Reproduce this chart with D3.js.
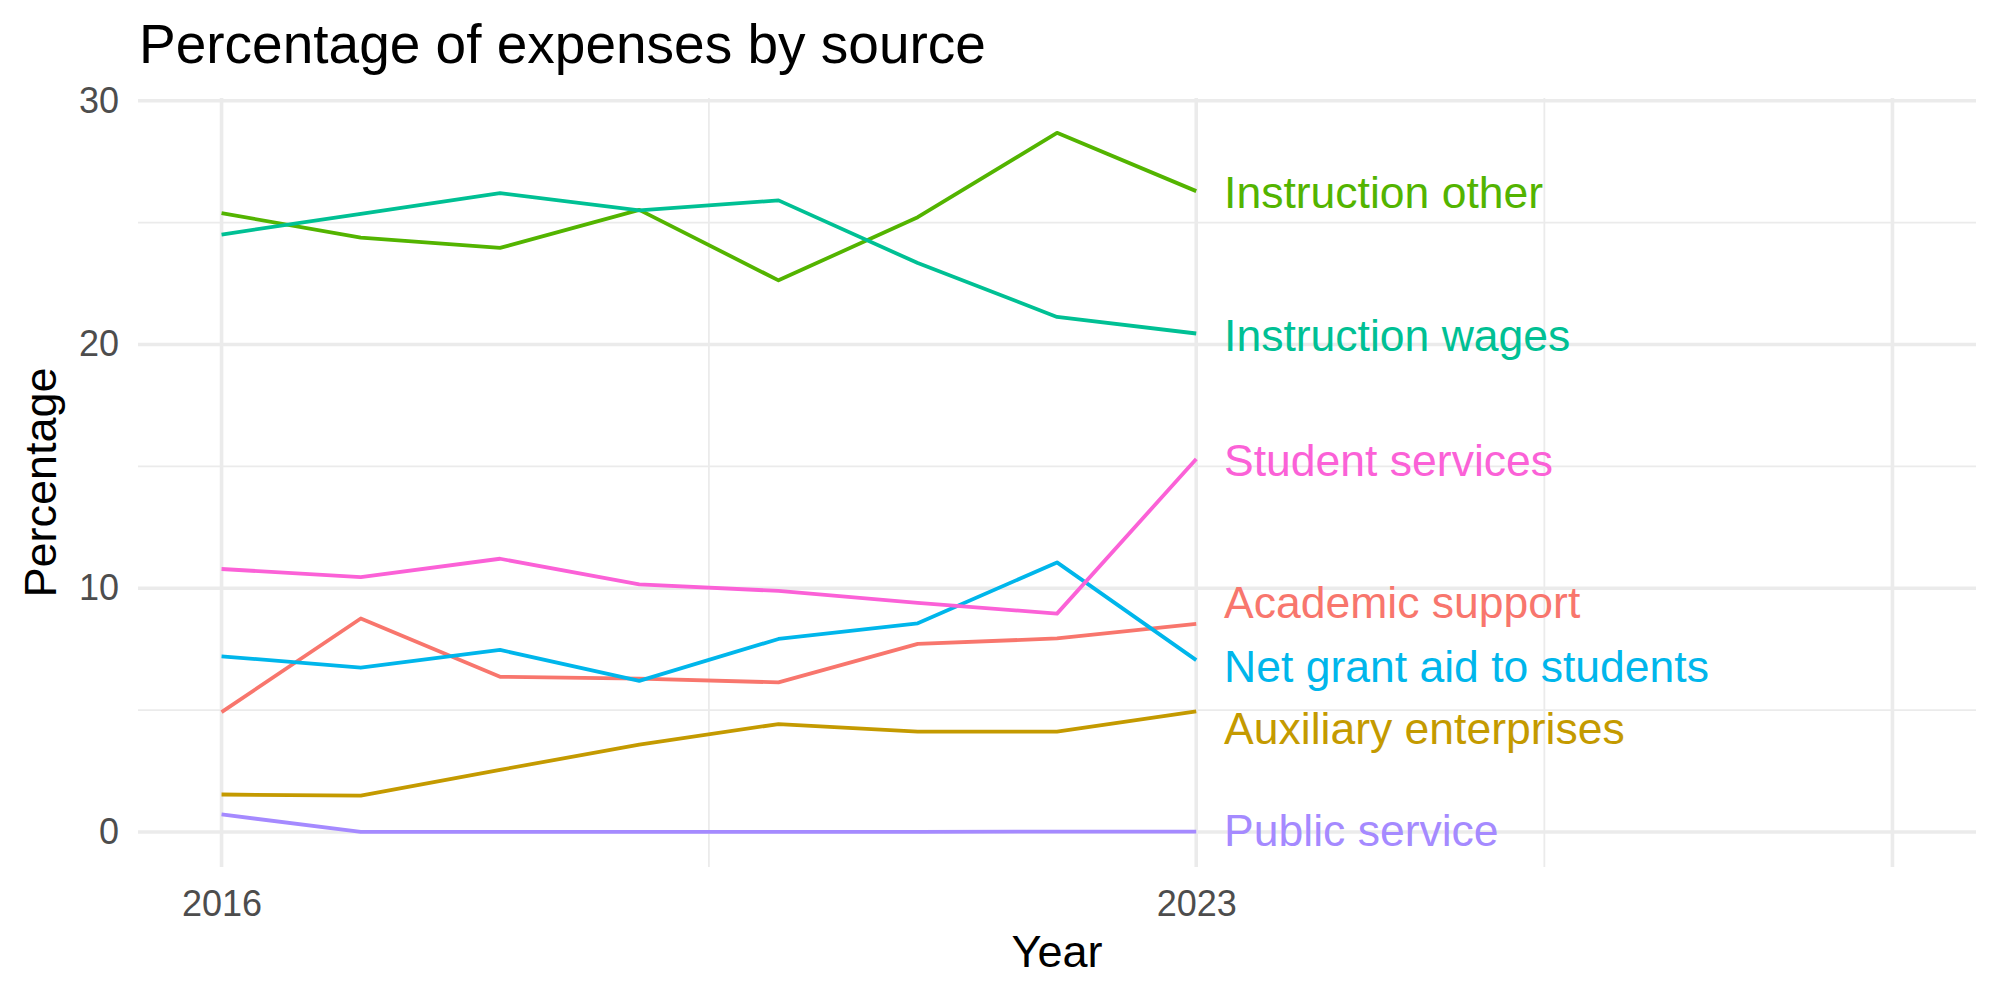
<!DOCTYPE html>
<html>
<head>
<meta charset="utf-8">
<script src="https://cdn.jsdelivr.net/npm/d3@7"></script>
<style>
  body { margin: 0; background: #fff; }
  text { font-family: "Liberation Sans", Arial, Helvetica, sans-serif; }
</style>
</head>
<body>
<svg></svg>
<script>
var years = [2016, 2017, 2018, 2019, 2020, 2021, 2022, 2023];

var sources = ['Academic support', 'Auxiliary enterprises', 'Instruction other', 'Instruction wages',
               'Net grant aid to students', 'Public service', 'Student services'];

var academicSupport = [4.92, 8.76, 6.37, 6.29, 6.14, 7.72, 7.94, 8.54];
var auxiliaryEnterprises = [1.54, 1.49, 2.55, 3.59, 4.43, 4.12, 4.12, 4.95];
var instructionOther = [25.39, 24.38, 23.96, 25.52, 22.63, 25.22, 28.68, 26.29];
var instructionWages = [24.51, 25.36, 26.21, 25.50, 25.91, 23.34, 21.13, 20.45];
var netGrantAid = [7.21, 6.74, 7.47, 6.20, 7.92, 8.56, 11.06, 7.05];
var publicService = [0.72, 0.01, 0.01, 0.01, 0.01, 0.01, 0.02, 0.02];
var studentServices = [10.79, 10.46, 11.21, 10.16, 9.89, 9.40, 8.96, 15.30];

// where the end labels sit after being pushed apart
var labelValues = [9.40, 4.23, 26.23, 20.39, 6.80, 0.06, 15.26];

var xBreaks = [2016, 2023, 2028];
var xBreakLabels = ['2016', '2023', ''];
var xMinorBreaks = [2019.5, 2025.5];
var yBreaks = [0, 10, 20, 30];
var yMinorBreaks = [5, 15, 25];

var series = [academicSupport, auxiliaryEnterprises, instructionOther, instructionWages,
              netGrantAid, publicService, studentServices];

var width = 2000;
var height = 1000;

var colorScale = d3.scaleOrdinal()
                   .domain(sources)
                   .range(['#F8766D', '#C49A00', '#53B400', '#00C094', '#00B6EB', '#A58AFF', '#FB61D7']);

var x = d3.scaleLinear()
          .domain([2015.4, 2028.6])
          .range([138, 1976]);

var y = d3.scaleLinear()
          .domain([-1.434, 30.11])
          .range([867, 98]);

var svg = d3.select('svg')
    .attr('width', width)
    .attr('height', height);

// grid
svg.append('g')
  .selectAll('line')
  .data(yMinorBreaks)
  .enter()
  .append('line')
    .attr('x1', x.range()[0])
    .attr('x2', x.range()[1])
    .attr('y1', d => y(d))
    .attr('y2', d => y(d))
    .attr('stroke', '#EBEBEB')
    .attr('stroke-width', 1.8);

svg.append('g')
  .selectAll('line')
  .data(xMinorBreaks)
  .enter()
  .append('line')
    .attr('x1', d => x(d))
    .attr('x2', d => x(d))
    .attr('y1', y.range()[1])
    .attr('y2', y.range()[0])
    .attr('stroke', '#EBEBEB')
    .attr('stroke-width', 1.8);

svg.append('g')
  .selectAll('line')
  .data(yBreaks)
  .enter()
  .append('line')
    .attr('x1', x.range()[0])
    .attr('x2', x.range()[1])
    .attr('y1', d => y(d))
    .attr('y2', d => y(d))
    .attr('stroke', '#EBEBEB')
    .attr('stroke-width', 3.6);

svg.append('g')
  .selectAll('line')
  .data(xBreaks)
  .enter()
  .append('line')
    .attr('x1', d => x(d))
    .attr('x2', d => x(d))
    .attr('y1', y.range()[1])
    .attr('y2', y.range()[0])
    .attr('stroke', '#EBEBEB')
    .attr('stroke-width', 3.6);

// axes, labels only
var yAxis = svg.append('g')
    .attr('transform', 'translate(' + x.range()[0] + ',0)')
    .call(d3.axisLeft(y).tickValues(yBreaks).tickSize(0).tickPadding(19));

var xAxis = svg.append('g')
    .attr('transform', 'translate(0,' + y.range()[0] + ')')
    .call(d3.axisBottom(x).tickValues(xBreaks).tickSize(0).tickPadding(23)
            .tickFormat((d, i) => xBreakLabels[i]));

[yAxis, xAxis].forEach(function(g){
  g.select('.domain').remove();
  g.selectAll('text')
    .style('font-family', '"Liberation Sans", Arial, sans-serif')
    .style('font-size', '36px')
    .attr('fill', '#4D4D4D');
});

// lines
var line = d3.line()
             .x((d, i) => x(years[i]))
             .y(d => y(d));

svg.append('g')
  .selectAll('path')
  .data(series)
  .enter()
  .append('path')
    .attr('d', line)
    .attr('fill', 'none')
    .attr('stroke', (d, i) => colorScale(sources[i]))
    .attr('stroke-width', 3.8)
    .attr('stroke-linejoin', 'round');

// end labels
svg.append('g')
  .selectAll('text')
  .data(sources)
  .enter()
  .append('text')
    .attr('x', x(years[years.length - 1] + 0.2))
    .attr('y', (d, i) => y(labelValues[i]))
    .attr('dy', '0.35em')
    .attr('fill', d => colorScale(d))
    .style('font-size', '44.5px')
    .text(d => d);

// titles
svg.append('text')
    .attr('x', 139)
    .attr('y', 63)
    .style('font-size', '55px')
    .attr('fill', '#000')
    .text('Percentage of expenses by source');

svg.append('text')
    .attr('x', (x.range()[0] + x.range()[1]) / 2)
    .attr('y', 967)
    .attr('text-anchor', 'middle')
    .style('font-size', '45px')
    .attr('fill', '#000')
    .text('Year');

svg.append('text')
    .attr('transform', 'translate(56,' + (y.range()[0] + y.range()[1]) / 2 + ') rotate(-90)')
    .attr('text-anchor', 'middle')
    .style('font-size', '45px')
    .attr('fill', '#000')
    .text('Percentage');
</script>
</body>
</html>
